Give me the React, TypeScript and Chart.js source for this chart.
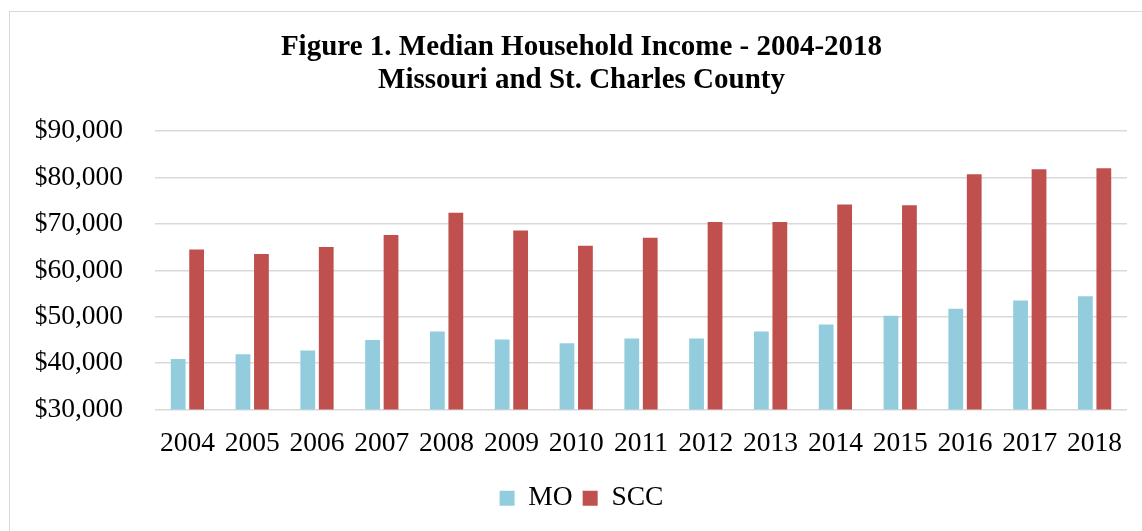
import React, { useEffect, useRef } from "react";
import { Chart, registerables } from "chart.js";

Chart.register(...registerables);

const years = ["2004","2005","2006","2007","2008","2009","2010","2011","2012","2013","2014","2015","2016","2017","2018"];
const moValues = [40900, 41900, 42700, 45000, 46800, 45100, 44300, 45300, 45300, 46800, 48300, 50200, 51700, 53500, 54400];
const sccValues = [64500, 63500, 65000, 67600, 72400, 68600, 65300, 67000, 70400, 70400, 74200, 74000, 80700, 81800, 82000];
const titleLines = ["Figure 1. Median Household Income - 2004-2018", "Missouri and St. Charles County"];
const seriesNames = ["MO", "SCC"];
const seriesColors = ["#93CDDD", "#C0504D"];
const yMin = 30000;
const yMax = 90000;
const yStep = 10000;

const FONT = "'Liberation Serif', 'Times New Roman', serif";

export default function App() {
  const ref = useRef<HTMLCanvasElement | null>(null);

  useEffect(() => {
    if (!ref.current) return;
    const chart = new Chart(ref.current, {
      type: "bar",
      data: {
        labels: years,
        datasets: [
          { label: seriesNames[0], data: moValues, backgroundColor: seriesColors[0], borderWidth: 0 },
          { label: seriesNames[1], data: sccValues, backgroundColor: seriesColors[1], borderWidth: 0 },
        ],
      },
      options: {
        responsive: false,
        animation: false,
        devicePixelRatio: 1,
        datasets: { bar: { categoryPercentage: 0.57, barPercentage: 0.8 } },
        layout: { padding: { top: 20, bottom: 9, left: 36, right: 15 } },
        plugins: {
          title: {
            display: true,
            text: titleLines,
            color: "#000",
            font: { family: FONT, size: 29, weight: "bold", lineHeight: 1.14 },
            padding: { top: 11, bottom: 34 },
          },
          legend: {
            display: true,
            position: "bottom",
            labels: {
              color: "#000",
              font: { family: FONT, size: 27.5 },
              boxWidth: 15,
              boxHeight: 15,
              padding: 10,
            },
          },
          tooltip: { enabled: false },
        },
        scales: {
          x: {
            grid: { display: false, drawTicks: false },
            border: { display: false },
            ticks: { color: "#000", font: { family: FONT, size: 27.5 }, padding: 18, maxRotation: 0, autoSkip: false },
            afterFit: (scale: any) => { scale.height = 65; },
          },
          y: {
            min: yMin,
            max: yMax,
            grid: { color: "#d9d9d9", lineWidth: 1.5, drawTicks: false },
            border: { display: false },
            ticks: {
              stepSize: yStep,
              color: "#000",
              font: { family: FONT, size: 27.5 },
              padding: 32,
              callback: (v: any) => "$" + Number(v).toLocaleString("en-US"),
            },
            afterFit: (scale: any) => { scale.width = 119; },
          },
        },
      },
    });
    return () => chart.destroy();
  }, []);

  return (
    <div style={{ position: "fixed", left: 0, top: 0, width: 1142, height: 531, background: "#fff", overflow: "hidden" }}>
      <div style={{ position: "absolute", left: 9, top: 11, width: 1200, height: 600, borderLeft: "1.5px solid #d9d9d9", borderTop: "1.5px solid #d9d9d9", boxSizing: "border-box" }} />
      <canvas ref={ref} width={1142} height={531} style={{ position: "absolute", left: 0, top: 0 }} />
    </div>
  );
}
